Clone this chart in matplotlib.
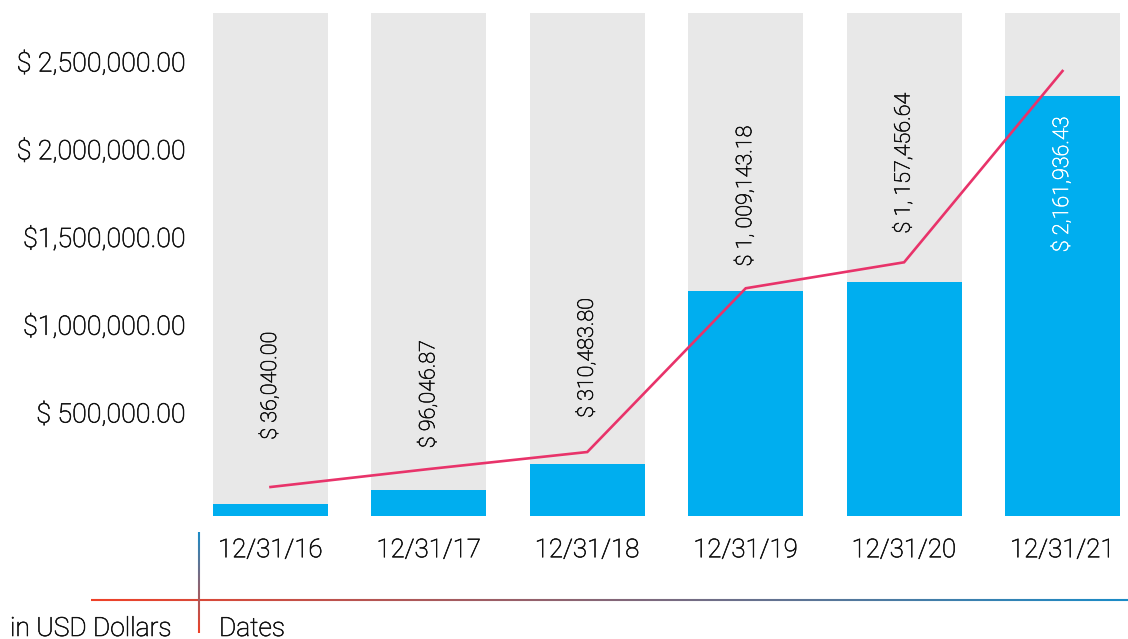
import numpy as np
import matplotlib
matplotlib.use("Agg")
import matplotlib.pyplot as plt
import matplotlib.patheffects as pe
from matplotlib.collections import LineCollection
from matplotlib.colors import LinearSegmentedColormap

plt.rcParams['font.family'] = ['Roboto', 'DejaVu Sans']
plt.rcParams['font.weight'] = 'light'

# data
dates = ['12/31/16', '12/31/17', '12/31/18', '12/31/19', '12/31/20', '12/31/21']
bar_heights = [68400, 148000, 296000, 1282000, 1333000, 2393000]   # blue part, above bar base
line_values = [72600, 175000, 272000, 1205000, 1353000, 2443000]
value_labels = ['$ 36,040.00', '$ 96,046.87', '$ 310,483.80',
                '$ 1, 009,143.18', '$ 1, 157,456.64', '$ 2,161,936.43']
label_y = [648000, 601000, 807000, 1730000, 1918000, 1798000]
ytick_vals = [500000, 1000000, 1500000, 2000000, 2500000]
ytick_text = ['$ 500,000.00', '$1,000,000.00', '$1,500,000.00', '$ 2,000,000.00', '$ 2,500,000.00']

BLUE = '#00AEEF'
GRAY = '#E8E8E8'
PINK = '#E8336A'
TXT = '#111111'

ymin, ymax = -92600, 2773500


def thicken(col):
    # light font reads a bit too thin, add a hairline stroke
    return [pe.withStroke(linewidth=0.45, foreground=col)]


fig = plt.figure(figsize=(11.28, 6.39), dpi=100)
ax = fig.add_axes([213/1128, 1 - 516/639, (1120-213)/1128, (516-13)/639])

x = np.arange(len(dates))
w = 0.726
ax.bar(x, ymax - ymin, bottom=ymin, width=w, color=GRAY, zorder=1)
ax.bar(x, bar_heights, bottom=ymin, width=w, color=BLUE, zorder=2)
ax.plot(x, line_values, color=PINK, lw=1.9, zorder=3, solid_joinstyle='miter')

for i, (lab, yy) in enumerate(zip(value_labels, label_y)):
    col = 'white' if i == len(dates) - 1 else TXT
    ax.text(x[i], yy, lab, rotation=90, ha='center', va='center',
            fontsize=15.5, color=col, zorder=4, path_effects=thicken(col))

ax.set_xlim(-w/2, len(dates) - 1 + w/2)
ax.set_ylim(ymin, ymax)
ax.set_xticks(x)
ax.set_xticklabels(dates, fontsize=18.6, color=TXT)
ax.set_yticks(ytick_vals)
ax.set_yticklabels(ytick_text, fontsize=19.3, color=TXT)
for t in ax.get_xticklabels() + ax.get_yticklabels():
    t.set_path_effects(thicken(TXT))
ax.tick_params(length=0)
ax.tick_params(axis='y', pad=20)
ax.tick_params(axis='x', pad=16)
for s in ax.spines.values():
    s.set_visible(False)

# gradient guide lines at the bottom
cmap_g = LinearSegmentedColormap.from_list('g', ['#EE4128', '#1B8BC6'])
n = 200
hx = np.linspace(91/1128, 1.0, n + 1)
hy = np.full_like(hx, 1 - 600/639)
segs = np.stack([np.column_stack([hx[:-1], hy[:-1]]), np.column_stack([hx[1:], hy[1:]])], axis=1)
lc = LineCollection(segs, cmap=cmap_g, linewidths=1.5, transform=fig.transFigure)
lc.set_array(np.linspace(0, 1, n))
fig.add_artist(lc)

vy = np.linspace(1 - 633/639, 1 - 532/639, n + 1)
vx = np.full_like(vy, 199/1128)
segs = np.stack([np.column_stack([vx[:-1], vy[:-1]]), np.column_stack([vx[1:], vy[1:]])], axis=1)
lc2 = LineCollection(segs, cmap=cmap_g, linewidths=1.5, transform=fig.transFigure)
lc2.set_array(np.linspace(0, 1, n))
fig.add_artist(lc2)

fig.text(10/1128, 1 - 636/639, 'in USD Dollars', fontsize=19, color=TXT, ha='left', va='baseline',
         path_effects=thicken(TXT))
fig.text(219/1128, 1 - 636/639, 'Dates', fontsize=19, color=TXT, ha='left', va='baseline',
         path_effects=thicken(TXT))

fig.savefig('out.png', dpi=100)
